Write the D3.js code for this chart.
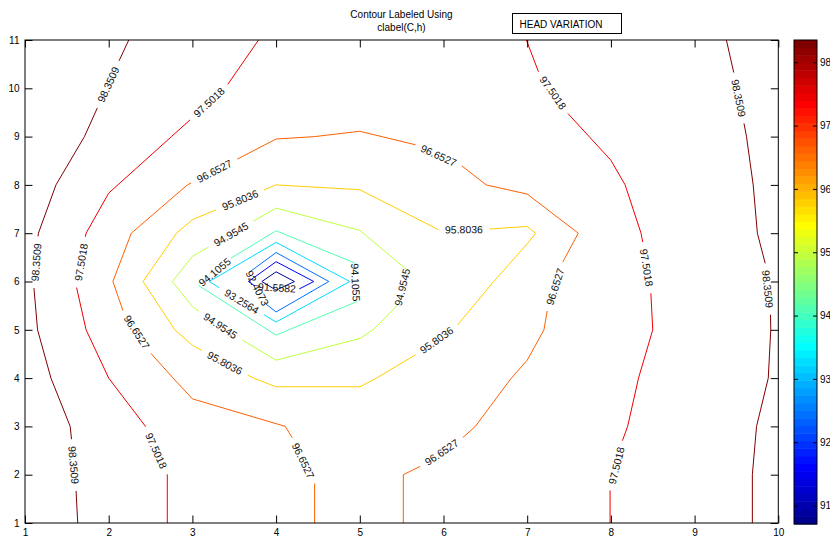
<!DOCTYPE html>
<html>
<head>
<meta charset="utf-8">
<script src="https://cdn.jsdelivr.net/npm/d3@7"></script>
<style>
body { margin: 0; background: #fff; }
svg { display: block; font-family: "Liberation Sans", Arial, sans-serif; }
</style>
</head>
<body>
<svg id="chart" width="830" height="538"></svg>
<script>
// contour levels (also the colour limits of the colorbar)
const levels = [90.7091, 91.5582, 92.4073, 93.2564, 94.1055, 94.9545, 95.8036, 96.6527, 97.5018, 98.3509];

const xTicks = [1, 2, 3, 4, 5, 6, 7, 8, 9, 10];
const yTicks = [1, 2, 3, 4, 5, 6, 7, 8, 9, 10, 11];
const cbTicks = [91, 92, 93, 94, 95, 96, 97, 98];

// contour vertices [x, y]
const c9071 = [[4, 6.2], [4.22, 6], [4, 5.82], [3.83, 6]];
const c9156 = [[4, 6.41], [4.45, 6], [4, 5.6], [3.67, 6]];
const c9241 = [[4, 6.6], [4.63, 6], [4, 5.37], [3.53, 6]];
const c9326 = [[4, 6.81], [4.88, 6], [4, 5.16], [3.2, 6]];
const c9411 = [[4, 7.05], [5, 6.34], [5.15, 6], [5, 5.61], [4, 4.89], [3, 6]];
const c9495 = [[4, 7.52], [3, 6.52], [2.76, 6], [3, 5.48], [3.39, 5], [4, 4.37], [5, 4.82], [5.16, 5], [5.73, 6], [5, 7.06]];
const c9580 = [[4, 8], [3, 7.28], [2.81, 7], [2.41, 6], [2.79, 5], [3, 4.68], [3.73, 4], [4, 3.82], [5, 3.82], [5.2, 4],
  [6, 4.83], [6.12, 5], [6.6, 6], [7, 6.78], [7.1, 7], [7, 7.14], [6, 7.02], [5, 7.9]];
const c9665 = [[4.46, 1], [4.46, 2], [4.11, 3], [3, 3.57], [2.77, 4], [2.25, 5], [2.05, 6], [2.27, 7], [2.94, 8], [4, 8.95],
  [4.46, 9], [5, 9.11], [6, 8.69], [6.51, 8], [7, 7.81], [7.61, 7], [7.3, 6], [7.2, 5], [7, 4.37], [6.81, 4], [6.38, 3],
  [6, 2.41], [5.52, 2], [5.52, 1]];
const c9750a = [[3.79, 11], [3.39, 10], [2.75, 9], [2, 7.83], [1.73, 7], [1.6, 6], [1.73, 5], [2, 4], [2.44, 3], [2.7, 2], [2.7, 1]];
const c9750b = [[6.99, 11], [7.21, 10], [7.74, 9], [8, 8.51], [8.17, 8], [8.36, 7], [8.47, 6], [8.5, 5], [8.33, 4], [8.2, 3], [7.99, 2], [7.99, 1]];
const c9835a = [[2.24, 11], [1.97, 10], [1.71, 9], [1.37, 8], [1.16, 7], [1.1, 6], [1.15, 5], [1.31, 4], [1.54, 3], [1.6, 2], [1.63, 1]];
const c9835b = [[9.38, 11], [9.51, 10], [9.62, 9], [9.7, 8], [9.75, 7], [9.9, 6], [9.91, 5], [9.88, 4], [9.74, 3], [9.69, 2], [9.69, 1]];

// inline label spots [levelIndex, x, y]
const labelSpots = [
  [1, 4, 5.6], [2, 3.63, 5.87], [3, 3.59, 5.59],
  [4, 3.2, 6.18], [4, 5.15, 6],
  [5, 3.46, 6.98], [5, 3.33, 5.07], [5, 5.67, 5.9],
  [6, 3.57, 7.69], [6, 3.39, 4.32], [6, 5.93, 4.76], [6, 6.24, 7.05],
  [7, 3.26, 8.29], [7, 2.3, 4.92], [7, 4.35, 2.3], [7, 5.96, 8.65], [7, 7.29, 5.92], [7, 6, 2.41],
  [8, 3.2, 9.71], [8, 1.65, 6.4], [8, 2.57, 2.5], [8, 7.28, 9.88], [8, 8.44, 6.29], [8, 8.03, 2.2],
  [9, 1.97, 10.1], [9, 1.12, 6.4], [9, 1.59, 2.2], [9, 9.53, 9.8], [9, 9.9, 5.85]
];

const contourPieces = [
  [0, c9071, true], [1, c9156, true], [2, c9241, true], [3, c9326, true], [4, c9411, true],
  [5, c9495, true], [6, c9580, true], [7, c9665, false],
  [8, c9750a, false], [8, c9750b, false], [9, c9835a, false], [9, c9835b, false]
];

const svg = d3.select('#chart');
const FONT = '"Liberation Sans", Arial, sans-serif';

const x = d3.scaleLinear().domain([1, 10]).range([25, 778.3]);
const y = d3.scaleLinear().domain([1, 11]).range([523, 40]);
const cmin = levels[0], cmax = levels[levels.length - 1];
const cy = d3.scaleLinear().domain([cmin, cmax]).range([524, 40]);

// MATLAB jet(64)
function jet(i) {
  const u = j => (j < 1 || j > 47) ? 0 : j <= 16 ? j / 16 : j <= 31 ? 1 : (48 - j) / 16;
  const n = i + 1;
  return d3.rgb(255 * u(n - 24), 255 * u(n - 8), 255 * u(n + 8)).toString();
}
const levelColor = v => jet(Math.max(0, Math.min(63, Math.floor((v - cmin) / (cmax - cmin) * 64 + 1e-9))));

// ---- path helpers (pixel space)
function prep(pts, closed) {
  const P = pts.map(p => [x(p[0]), y(p[1])]);
  if (closed) P.push(P[0].slice());
  const cum = [0];
  for (let i = 1; i < P.length; i++)
    cum.push(cum[i - 1] + Math.hypot(P[i][0] - P[i - 1][0], P[i][1] - P[i - 1][1]));
  const L = cum[cum.length - 1];
  let D = {P, cum};
  if (closed) D = {P: P.concat(P.slice(1)), cum: cum.concat(cum.slice(1).map(c => c + L))};
  return {P, cum, L, closed, D};
}
function pointAt(o, s) {
  const {P, cum} = o;
  let i = 1;
  while (i < cum.length - 1 && cum[i] < s) i++;
  const t = (s - cum[i - 1]) / ((cum[i] - cum[i - 1]) || 1);
  return [P[i - 1][0] + t * (P[i][0] - P[i - 1][0]), P[i - 1][1] + t * (P[i][1] - P[i - 1][1])];
}
function sub(o, a, b) {
  const pts = [pointAt(o, a)];
  o.cum.forEach((c, i) => { if (c > a && c < b) pts.push(o.P[i]); });
  pts.push(pointAt(o, b));
  return pts;
}
function project(o, q) {
  let best = {d: Infinity, s: 0};
  for (let i = 1; i < o.P.length; i++) {
    const a = o.P[i - 1], b = o.P[i];
    const vx = b[0] - a[0], vy = b[1] - a[1];
    const len2 = vx * vx + vy * vy || 1;
    const t = Math.max(0, Math.min(1, ((q[0] - a[0]) * vx + (q[1] - a[1]) * vy) / len2));
    const d = Math.hypot(a[0] + t * vx - q[0], a[1] + t * vy - q[1]);
    if (d < best.d) best = {d, s: o.cum[i - 1] + t * Math.sqrt(len2)};
  }
  return best;
}

const pieces = contourPieces.map(([k, pts, closed]) => Object.assign({k, gaps: []}, prep(pts, closed)));

const gLines = svg.append('g');
const gLabels = svg.append('g');

// labels cut the line they sit on, like clabel inline
labelSpots.forEach(([k, lx, ly]) => {
  const q = [x(lx), y(ly)];
  let piece = null, best = {d: Infinity};
  pieces.filter(p => p.k === k).forEach(p => {
    const r = project(p, q);
    if (r.d < best.d) { best = r; piece = p; }
  });
  const txt = gLabels.append('text')
    .text(String(levels[k]))
    .attr('font-family', FONT)
    .attr('font-size', '10.5px')
    .attr('fill', '#111')
    .attr('text-anchor', 'middle')
    .attr('dominant-baseline', 'central');
  const hw = (txt.node().getComputedTextLength() + 14) / 2;
  let a, b, p0, p1;
  if (piece.closed) {
    a = best.s - hw; b = best.s + hw;
    if (a < 0) { a += piece.L; b += piece.L; }
    p0 = pointAt(piece.D, a); p1 = pointAt(piece.D, b);
  } else {
    a = Math.max(0, best.s - hw); b = Math.min(piece.L, best.s + hw);
    p0 = pointAt(piece, a); p1 = pointAt(piece, b);
  }
  piece.gaps.push([a, b]);
  let ang = Math.atan2(p1[1] - p0[1], p1[0] - p0[0]) * 180 / Math.PI;
  if (ang > 90) ang -= 180;
  if (ang <= -90) ang += 180;
  txt.attr('transform', `translate(${(p0[0] + p1[0]) / 2},${(p0[1] + p1[1]) / 2}) rotate(${ang})`);
});

const line = d3.line();
pieces.forEach(p => {
  const parts = [];
  const gaps = p.gaps.sort((u, v) => u[0] - v[0]);
  if (!gaps.length) parts.push(p.P);
  else if (p.closed) {
    gaps.forEach((g, i) => {
      let s = g[1], e = i + 1 < gaps.length ? gaps[i + 1][0] : gaps[0][0] + p.L;
      if (s >= p.L && e >= p.L) { s -= p.L; e -= p.L; }
      if (e > s) parts.push(sub(p.D, s, e));
    });
  } else {
    let cur = 0;
    gaps.forEach(g => {
      if (g[0] > cur) parts.push(sub(p, cur, g[0]));
      cur = Math.max(cur, g[1]);
    });
    if (cur < p.L) parts.push(sub(p, cur, p.L));
  }
  gLines.selectAll(null).data(parts).enter().append('path')
    .attr('d', line)
    .attr('fill', 'none')
    .attr('stroke', levelColor(levels[p.k]))
    .attr('stroke-width', 1)
    .attr('stroke-linejoin', 'round');
});

// ---- axes
const styleAxis = g => {
  g.select('.domain').remove();
  g.attr('font-family', FONT).attr('font-size', 10);
  g.selectAll('text').attr('fill', '#000');
};
svg.append('g').attr('transform', 'translate(0,523)')
  .call(d3.axisBottom(x).tickValues(xTicks).tickFormat(d3.format('d')).tickSizeInner(-7.5).tickSizeOuter(0).tickPadding(5.5))
  .call(styleAxis);
svg.append('g').attr('transform', 'translate(0,40)')
  .call(d3.axisTop(x).tickValues(xTicks).tickFormat('').tickSizeInner(-7.5).tickSizeOuter(0))
  .call(styleAxis);
svg.append('g').attr('transform', 'translate(25,0)')
  .call(d3.axisLeft(y).tickValues(yTicks).tickFormat(d3.format('d')).tickSizeInner(-7.5).tickSizeOuter(0).tickPadding(5.5))
  .call(styleAxis);
svg.append('g').attr('transform', 'translate(778.3,0)')
  .call(d3.axisRight(y).tickValues(yTicks).tickFormat('').tickSizeInner(-7.5).tickSizeOuter(0))
  .call(styleAxis);
svg.append('rect')
  .attr('x', x(1)).attr('y', y(11))
  .attr('width', x(10) - x(1)).attr('height', y(1) - y(11))
  .attr('fill', 'none').attr('stroke', '#000').attr('stroke-width', 1);

// ---- colorbar
const cbX0 = 794, cbX1 = 817;
const step = (cmax - cmin) / 64;
svg.append('g').selectAll('rect').data(d3.range(64)).enter().append('rect')
  .attr('x', cbX0)
  .attr('y', i => cy(cmin + (i + 1) * step))
  .attr('width', cbX1 - cbX0)
  .attr('height', i => cy(cmin + i * step) - cy(cmin + (i + 1) * step) + 0.5)
  .attr('fill', i => jet(i));
svg.append('g').attr('transform', `translate(${cbX1},0)`)
  .call(d3.axisRight(cy).tickValues(cbTicks).tickFormat(d3.format('d')).tickSizeInner(-4).tickSizeOuter(0).tickPadding(3))
  .call(styleAxis);
svg.append('g').attr('transform', `translate(${cbX0},0)`)
  .call(d3.axisLeft(cy).tickValues(cbTicks).tickFormat('').tickSizeInner(-4).tickSizeOuter(0))
  .call(styleAxis);
svg.append('rect')
  .attr('x', cbX0).attr('y', cy(cmax))
  .attr('width', cbX1 - cbX0).attr('height', cy(cmin) - cy(cmax))
  .attr('fill', 'none').attr('stroke', '#000').attr('stroke-width', 1);

// ---- title and text box
svg.append('text').attr('x', 401.5).attr('y', 18.3).attr('text-anchor', 'middle')
  .attr('font-family', FONT).attr('font-size', 10).text('Contour Labeled Using');
svg.append('text').attr('x', 401.5).attr('y', 31.3).attr('text-anchor', 'middle')
  .attr('font-family', FONT).attr('font-size', 10).text('clabel(C,h)');
svg.append('rect').attr('x', 512.5).attr('y', 13.5).attr('width', 109).attr('height', 20)
  .attr('fill', '#fff').attr('stroke', '#000').attr('stroke-width', 1);
svg.append('text').attr('x', 519.5).attr('y', 27.5)
  .attr('font-family', FONT).attr('font-size', 10).text('HEAD VARIATION');
</script>
</body>
</html>
